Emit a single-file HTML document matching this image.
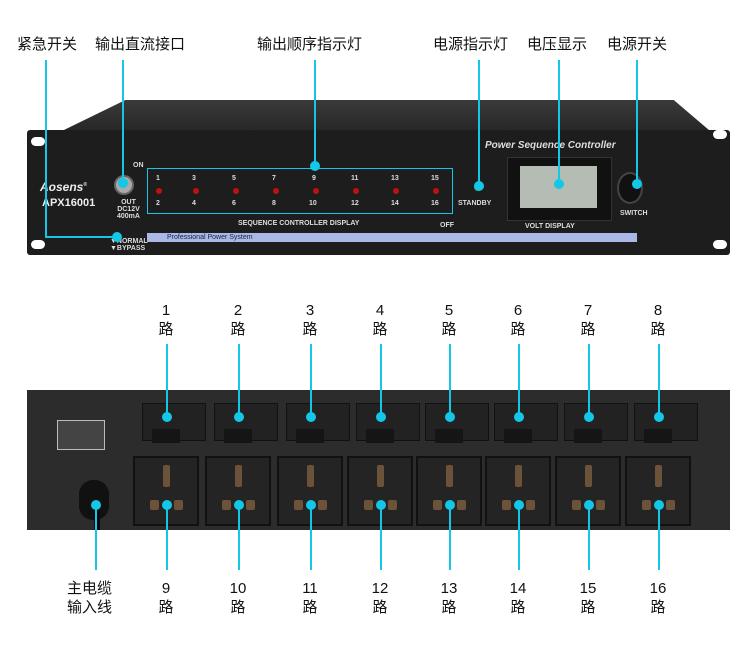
<!DOCTYPE html>
<html><head><meta charset="utf-8"><style>
body{margin:0;width:750px;height:669px;background:#fff;position:relative;overflow:hidden;font-family:"Liberation Sans","Noto Sans CJK SC",sans-serif}
.a{position:absolute}
.lbl{position:absolute;font-size:15px;color:#111;white-space:nowrap;line-height:18px}
.v{position:absolute;width:2px;background:#12c8e6}
.h{position:absolute;height:2px;background:#12c8e6}
.d{position:absolute;width:10px;height:10px;border-radius:50%;background:#12c8e6}
.t{position:absolute;color:#ddd;font-size:7px;font-weight:bold;white-space:nowrap}
.led{position:absolute;width:6px;height:6px;border-radius:50%;background:#c01010}
.hole{position:absolute;width:14px;height:9px;border-radius:5px;background:#fff}
.top{position:absolute;width:62px;height:36px;background:#222;border:1px solid #111}
.sock{position:absolute;width:62px;height:66px;background:#242424;border:2px solid #111}
.pin{position:absolute;background:#6b5238;border-radius:2px}
.num{position:absolute;font-size:15px;color:#111;text-align:center;width:30px;line-height:19px}
</style></head><body>
<div class="lbl" style="left:17px;top:36px">紧急开关</div>
<div class="lbl" style="left:95px;top:36px">输出直流接口</div>
<div class="lbl" style="left:257px;top:36px">输出顺序指示灯</div>
<div class="lbl" style="left:433px;top:36px">电源指示灯</div>
<div class="lbl" style="left:527px;top:36px">电压显示</div>
<div class="lbl" style="left:607px;top:36px">电源开关</div>

<!-- front device -->
<div class="a" style="left:27px;top:100px;width:703px;height:48px;background:linear-gradient(#3a3a3a,#1c1c1c);clip-path:polygon(14% 0,92% 0,100% 100%,0 100%)"></div>
<div class="a" style="left:27px;top:130px;width:703px;height:125px;background:#1d1d1d;border-radius:3px"></div>
<div class="hole" style="left:31px;top:137px"></div><div class="hole" style="left:31px;top:240px"></div>
<div class="hole" style="left:713px;top:130px"></div><div class="hole" style="left:713px;top:240px"></div>
<div class="a" style="left:40px;top:180px;color:#eee;font:italic bold 12px 'Liberation Sans',sans-serif">Aosens<sup style="font-size:5px">®</sup></div>
<div class="a" style="left:42px;top:197px;color:#eee;font:bold 11px 'Liberation Sans',sans-serif">APX16001</div>
<div class="a" style="left:114px;top:175px;width:16px;height:16px;border-radius:50%;background:#aaa;border:2px solid #666"></div>
<div class="t" style="left:117px;top:199px;line-height:7px;text-align:center">OUT<br>DC12V<br>400mA</div>
<div class="t" style="left:110px;top:238px;line-height:7px">▼NORMAL<br>▼BYPASS</div>
<div class="t" style="left:133px;top:162px">ON</div>
<div class="a" style="left:147px;top:168px;width:304px;height:44px;border:1px solid #12c8e6"></div>
<div class="t" style="left:156px;top:175px">1</div><div class="t" style="left:192px;top:175px">3</div><div class="t" style="left:232px;top:175px">5</div><div class="t" style="left:272px;top:175px">7</div><div class="t" style="left:312px;top:175px">9</div><div class="t" style="left:351px;top:175px">11</div><div class="t" style="left:391px;top:175px">13</div><div class="t" style="left:431px;top:175px">15</div>
<div class="led" style="left:156px;top:188px"></div><div class="led" style="left:193px;top:188px"></div><div class="led" style="left:233px;top:188px"></div><div class="led" style="left:273px;top:188px"></div><div class="led" style="left:313px;top:188px"></div><div class="led" style="left:353px;top:188px"></div><div class="led" style="left:393px;top:188px"></div><div class="led" style="left:433px;top:188px"></div>
<div class="t" style="left:156px;top:200px">2</div><div class="t" style="left:192px;top:200px">4</div><div class="t" style="left:232px;top:200px">6</div><div class="t" style="left:272px;top:200px">8</div><div class="t" style="left:309px;top:200px">10</div><div class="t" style="left:351px;top:200px">12</div><div class="t" style="left:391px;top:200px">14</div><div class="t" style="left:431px;top:200px">16</div>
<div class="t" style="left:238px;top:220px">SEQUENCE CONTROLLER DISPLAY</div>
<div class="t" style="left:440px;top:222px">OFF</div>
<div class="a" style="left:147px;top:233px;width:490px;height:9px;background:#a9b8e6;color:#224;font-size:7px;line-height:9px;padding-left:20px;box-sizing:border-box">Professional Power System</div>
<div class="a" style="left:474px;top:184px;width:7px;height:7px;border-radius:50%;background:#2a8a3a"></div>
<div class="t" style="left:458px;top:200px">STANDBY</div>
<div class="a" style="left:485px;top:140px;color:#ddd;font:italic bold 10px 'Liberation Sans',sans-serif">Power Sequence Controller</div>
<div class="a" style="left:507px;top:157px;width:103px;height:62px;background:#111;border:1px solid #333"></div>
<div class="a" style="left:520px;top:166px;width:77px;height:42px;background:#b4bcb4"></div>
<div class="t" style="left:525px;top:223px">VOLT DISPLAY</div>
<div class="a" style="left:617px;top:172px;width:22px;height:28px;border-radius:50%;background:#111;border:2px solid #444"></div>
<div class="t" style="left:620px;top:210px">SWITCH</div>
<!-- front connectors -->
<div class="v" style="left:45px;top:60px;height:178px"></div><div class="h" style="left:45px;top:236px;width:72px"></div><div class="d" style="left:112px;top:232px"></div>
<div class="v" style="left:122px;top:60px;height:124px"></div><div class="d" style="left:118px;top:178px"></div>
<div class="v" style="left:314px;top:60px;height:106px"></div><div class="d" style="left:310px;top:161px"></div>
<div class="v" style="left:478px;top:60px;height:126px"></div><div class="d" style="left:474px;top:181px"></div>
<div class="v" style="left:558px;top:60px;height:124px"></div><div class="d" style="left:554px;top:179px"></div>
<div class="v" style="left:636px;top:60px;height:124px"></div><div class="d" style="left:632px;top:179px"></div>

<!-- rear device -->
<div class="a" style="left:27px;top:390px;width:703px;height:140px;background:#2c2c2c"></div>
<div class="a" style="left:57px;top:420px;width:46px;height:28px;border:1px solid #bbb;background:#444"></div>
<div class="a" style="left:79px;top:480px;width:30px;height:40px;border-radius:14px;background:#111"></div>
<div class="a" style="left:94px;top:505px;width:6px;height:25px;background:#0a0a0a"></div>

<div id="rear"></div>
<script>
var xs=[166,238,310,380,449,518,588,658];
var h='';
xs.forEach(function(x,i){
h+='<div class="top" style="left:'+(x-24)+'px;top:403px"></div>';
h+='<div class="a" style="left:'+(x-14)+'px;top:429px;width:28px;height:14px;background:#151515"></div>';
h+='<div class="sock" style="left:'+(x-33)+'px;top:456px"></div>';
h+='<div class="pin" style="left:'+(x-3)+'px;top:465px;width:7px;height:22px"></div>';
h+='<div class="pin" style="left:'+(x-16)+'px;top:500px;width:9px;height:10px"></div>';
h+='<div class="pin" style="left:'+(x+8)+'px;top:500px;width:9px;height:10px"></div>';
h+='<div class="num" style="left:'+(x-15)+'px;top:301px">'+(i+1)+'<br>路</div>';
h+='<div class="num" style="left:'+(x-15)+'px;top:579px">'+(i+9)+'<br>路</div>';
h+='<div class="v" style="left:'+x+'px;top:344px;height:72px"></div>';
h+='<div class="d" style="left:'+(x-4)+'px;top:412px"></div>';
h+='<div class="d" style="left:'+(x-4)+'px;top:500px"></div>';
h+='<div class="v" style="left:'+x+'px;top:505px;height:65px"></div>';
});
h+='<div class="d" style="left:91px;top:500px"></div><div class="v" style="left:95px;top:505px;height:65px"></div>';
document.getElementById('rear').innerHTML=h;
</script>
<div class="lbl" style="left:67px;top:579px;line-height:19px">主电缆<br>输入线</div>
</body></html>
